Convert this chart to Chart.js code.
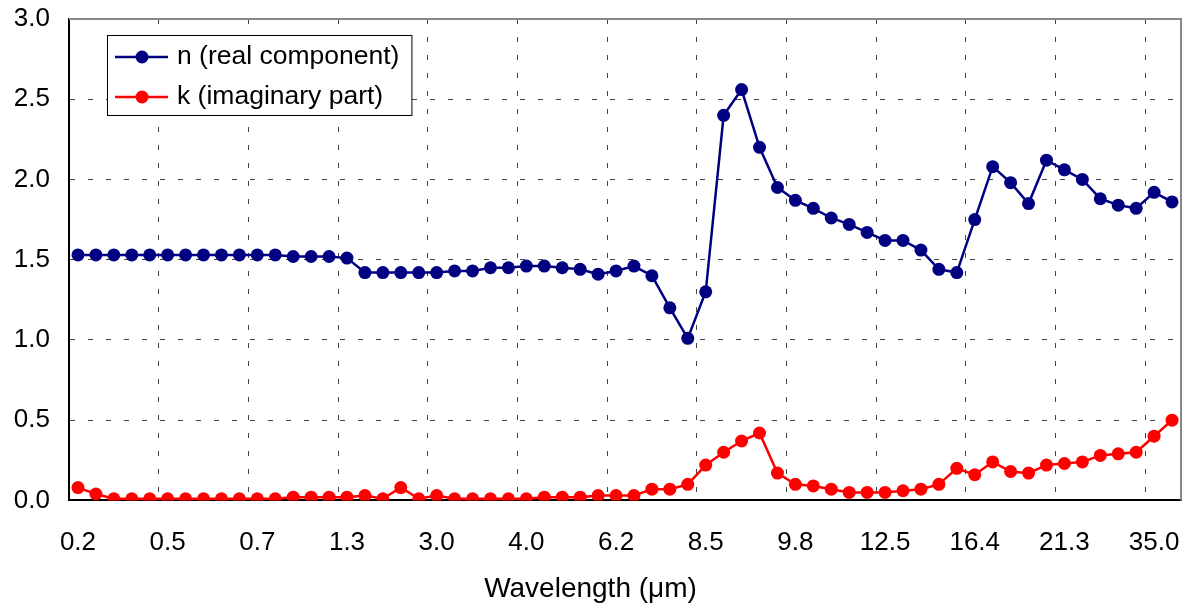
<!DOCTYPE html>
<html>
<head>
<meta charset="utf-8">
<title>n, k</title>
<script src="https://cdn.jsdelivr.net/npm/chart.js@4/dist/chart.umd.min.js"></script>
<style>
	body { margin: 0; background: #fff; }
</style>
</head>
<body>
<canvas id="myChart" width="1192" height="612"></canvas>
<script>
// wavelength labels, one every 5 samples
var tickLabels = ['0.2', '0.5', '0.7', '1.3', '3.0', '4.0', '6.2', '8.5', '9.8', '12.5', '16.4', '21.3', '35.0'];

// n (real component)
var nReal = [
	1.53, 1.53, 1.53, 1.53, 1.53, 1.53, 1.53, 1.53, 1.53, 1.53,
	1.53, 1.53, 1.52, 1.52, 1.52, 1.51, 1.42, 1.42, 1.42, 1.42,
	1.42, 1.43, 1.43, 1.45, 1.45, 1.46, 1.46, 1.45, 1.44, 1.41,
	1.43, 1.46, 1.40, 1.20, 1.01, 1.30, 2.40, 2.56, 2.20, 1.95,
	1.87, 1.82, 1.76, 1.72, 1.67, 1.62, 1.62, 1.56, 1.44, 1.42,
	1.75, 2.08, 1.98, 1.85, 2.12, 2.06, 2.00, 1.88, 1.84, 1.82,
	1.92, 1.86
];

// k (imaginary part)
var kImag = [
	0.08, 0.04, 0.01, 0.01, 0.01, 0.01, 0.01, 0.01, 0.01, 0.01,
	0.01, 0.01, 0.02, 0.02, 0.02, 0.02, 0.03, 0.01, 0.08, 0.01,
	0.03, 0.01, 0.01, 0.01, 0.01, 0.01, 0.02, 0.02, 0.02, 0.03,
	0.03, 0.03, 0.07, 0.07, 0.10, 0.22, 0.30, 0.37, 0.42, 0.17,
	0.10, 0.09, 0.07, 0.05, 0.05, 0.05, 0.06, 0.07, 0.10, 0.20,
	0.16, 0.24, 0.18, 0.17, 0.22, 0.23, 0.24, 0.28, 0.29, 0.30,
	0.40, 0.50
];

var fontFamily = '"Liberation Sans", Arial, sans-serif';
var gridColor = '#444';

// one category per sample, labelled every 5th
var categories = nReal.map(function (v, i) {
	return i % 5 === 0 ? tickLabels[i / 5] : '';
});

// gray frame on the top and right of the plot
var plotFrame = {
	id: 'plotFrame',
	beforeDatasetsDraw: function (chart) {
		var ctx = chart.ctx, a = chart.chartArea;
		ctx.save();
		ctx.strokeStyle = '#888';
		ctx.lineWidth = 2;
		ctx.beginPath();
		ctx.moveTo(a.left, a.top);
		ctx.lineTo(a.right, a.top);
		ctx.lineTo(a.right, a.bottom);
		ctx.stroke();
		ctx.restore();
	}
};

// boxed legend in the top left corner of the plot
var legendBox = {
	id: 'legendBox',
	afterDraw: function (chart) {
		var ctx = chart.ctx, a = chart.chartArea;
		var x = a.left + 38, y = a.top + 16;
		var sets = chart.data.datasets;
		ctx.save();
		ctx.font = '26.5px ' + fontFamily;
		var textW = 0;
		sets.forEach(function (d) {
			textW = Math.max(textW, ctx.measureText(d.label).width);
		});
		var w = 70 + textW + 12, h = 80;
		ctx.fillStyle = '#fff';
		ctx.fillRect(x, y, w, h);
		ctx.strokeStyle = '#000';
		ctx.lineWidth = 1;
		ctx.strokeRect(x + 0.5, y + 0.5, w, h);
		sets.forEach(function (d, i) {
			var cy = y + 22 + i * 40;
			ctx.strokeStyle = d.borderColor;
			ctx.lineWidth = d.borderWidth;
			ctx.beginPath();
			ctx.moveTo(x + 8, cy);
			ctx.lineTo(x + 61, cy);
			ctx.stroke();
			ctx.fillStyle = d.pointBackgroundColor;
			ctx.beginPath();
			ctx.arc(x + 35, cy, d.pointRadius, 0, Math.PI * 2);
			ctx.fill();
			ctx.fillStyle = '#000';
			ctx.textBaseline = 'middle';
			ctx.fillText(d.label, x + 70, cy);
		});
		ctx.restore();
	}
};

var ctx = document.getElementById('myChart').getContext('2d');
var chart = new Chart(ctx, {
	type: 'line',
	data: {
		labels: categories,
		datasets: [{
			label: 'n (real component)',
			data: nReal,
			borderColor: '#000080',
			backgroundColor: '#000080',
			pointBackgroundColor: '#000080',
			pointBorderWidth: 0,
			pointRadius: 6.5,
			borderWidth: 2.5,
			tension: 0
		}, {
			label: 'k (imaginary part)',
			data: kImag,
			borderColor: '#ff0000',
			backgroundColor: '#ff0000',
			pointBackgroundColor: '#ff0000',
			pointBorderWidth: 0,
			pointRadius: 6.5,
			borderWidth: 2.5,
			tension: 0
		}]
	},
	options: {
		responsive: false,
		animation: false,
		layout: {
			padding: { top: 19, right: 11, bottom: 2, left: 0 }
		},
		plugins: {
			legend: { display: false },
			tooltip: { enabled: false },
			title: {
				display: true,
				position: 'bottom',
				text: 'Wavelength (\u03bcm)',
				color: '#000',
				font: { family: fontFamily, size: 28, weight: 'normal' },
				padding: { top: 0, bottom: 4 }
			}
		},
		scales: {
			x: {
				type: 'category',
				offset: true,
				afterFit: function (scale) {
					scale.height = 72;
					scale.paddingLeft = 0;
					scale.paddingRight = 0;
				},
				grid: {
					offset: true,
					drawTicks: false,
					lineWidth: 1,
					color: function (c) {
						return (c.index > 0 && c.index < categories.length && c.index % 5 === 0) ? gridColor : 'transparent';
					}
				},
				border: { color: '#000', width: 2, dash: [5, 13] },
				ticks: {
					autoSkip: false,
					maxRotation: 0,
					padding: 27,
					color: '#000',
					font: { family: fontFamily, size: 26 }
				}
			},
			y: {
				min: 0,
				max: 3,
				afterFit: function (scale) {
					scale.width = 69;
					scale.paddingTop = 0;
					scale.paddingBottom = 0;
				},
				grid: {
					drawTicks: false,
					lineWidth: 1,
					color: function (c) {
						return (c.tick && c.tick.value > 0 && c.tick.value < 3) ? gridColor : 'transparent';
					}
				},
				border: { color: '#000', width: 2, dash: [5, 13] },
				ticks: {
					stepSize: 0.5,
					padding: 19,
					color: '#000',
					font: { family: fontFamily, size: 26 },
					callback: function (v) { return v.toFixed(1); }
				}
			}
		}
	},
	plugins: [plotFrame, legendBox]
});
</script>
</body>
</html>
